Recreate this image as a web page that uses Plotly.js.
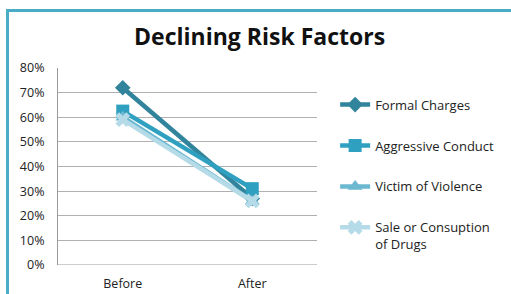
<!DOCTYPE html>
<html>
<head>
<meta charset="utf-8">
<script src="https://cdn.plot.ly/plotly-3.0.1.min.js"></script>
<style>
html,body{margin:0;padding:0;background:#fff;}
#wrap{position:relative;width:511px;height:294px;overflow:hidden;}
#frame{position:absolute;left:6px;top:9px;width:520px;height:300px;border-left:3px solid #4bacc6;border-top:3px solid #4bacc6;box-sizing:border-box;}
#chart{position:absolute;left:0;top:0;width:511px;height:294px;}
</style>
</head>
<body>
<div id="wrap"><div id="frame"></div><div id="chart"></div></div>
<script>
var categories = ["Before", "After"];
var seriesNames = ["Formal Charges", "Aggressive Conduct", "Victim of Violence", "Sale or Consuption<br>of Drugs"];
var formalCharges = [0.72, 0.27];
var aggressiveConduct = [0.625, 0.31];
var victimOfViolence = [0.60, 0.26];
var saleOfDrugs = [0.59, 0.26];
var yTickVals = [0, 0.1, 0.2, 0.3, 0.4, 0.5, 0.6, 0.7, 0.8];
var yTickText = ["0%", "10%", "20%", "30%", "40%", "50%", "60%", "70%", "80%"];

var allValues = [formalCharges, aggressiveConduct, victimOfViolence, saleOfDrugs];
var colors = ["#31849b", "#2fa0bf", "#6cb8d1", "#b4dbe7"];
var symbols = ["diamond", "square", "triangle-up", "x"];
var sizes = [12, 13, 13, 13];

var traces = allValues.map(function(v, i){
  return {
    type: "scatter", mode: "lines+markers",
    x: categories, y: v, name: seriesNames[i],
    legendgroup: "g" + i,
    line: {color: colors[i], width: 4.5},
    marker: {symbol: symbols[i], size: sizes[i], color: colors[i], line: {width: 0}},
    cliponaxis: false
  };
});

var layout = {
  width: 511, height: 294,
  margin: {l: 58, r: 192, t: 68, b: 29},
  paper_bgcolor: "rgba(0,0,0,0)", plot_bgcolor: "rgba(0,0,0,0)",
  font: {family: "Open Sans, sans-serif", size: 12, color: "#222"},
  title: {text: "<b>Declining Risk Factors</b>", font: {family: "Open Sans, sans-serif", size: 23, color: "#111"}, x: 0.508, xanchor: "center", y: 0.875, yanchor: "middle"},
  xaxis: {
    type: "category", range: [-0.5, 1.5],
    showgrid: false, zeroline: false, showline: false,
    ticks: "", tickfont: {size: 12.5, color: "#222"}, ticklabelstandoff: 9
  },
  yaxis: {
    range: [0, 0.8], tickvals: yTickVals, ticktext: yTickText,
    showgrid: true, gridcolor: "#b0b0b0", gridwidth: 1,
    zeroline: false, showline: true, linecolor: "#999", linewidth: 1,
    ticks: "", tickfont: {size: 12.5, color: "#222"}, ticklabelstandoff: 10
  },
  showlegend: true,
  legend: {
    x: 1.07, xanchor: "left", y: 0.89, yanchor: "top",
    traceorder: "grouped", tracegroupgap: 21, valign: "top",
    font: {size: 13, color: "#222"}, bgcolor: "rgba(0,0,0,0)"
  },
  shapes: [{type: "line", xref: "paper", yref: "y", x0: 0, x1: 1, y0: 0, y1: 0, line: {color: "#999", width: 1}}]
};

Plotly.newPlot("chart", traces, layout, {displayModeBar: false, staticPlot: true});
</script>
</body>
</html>
